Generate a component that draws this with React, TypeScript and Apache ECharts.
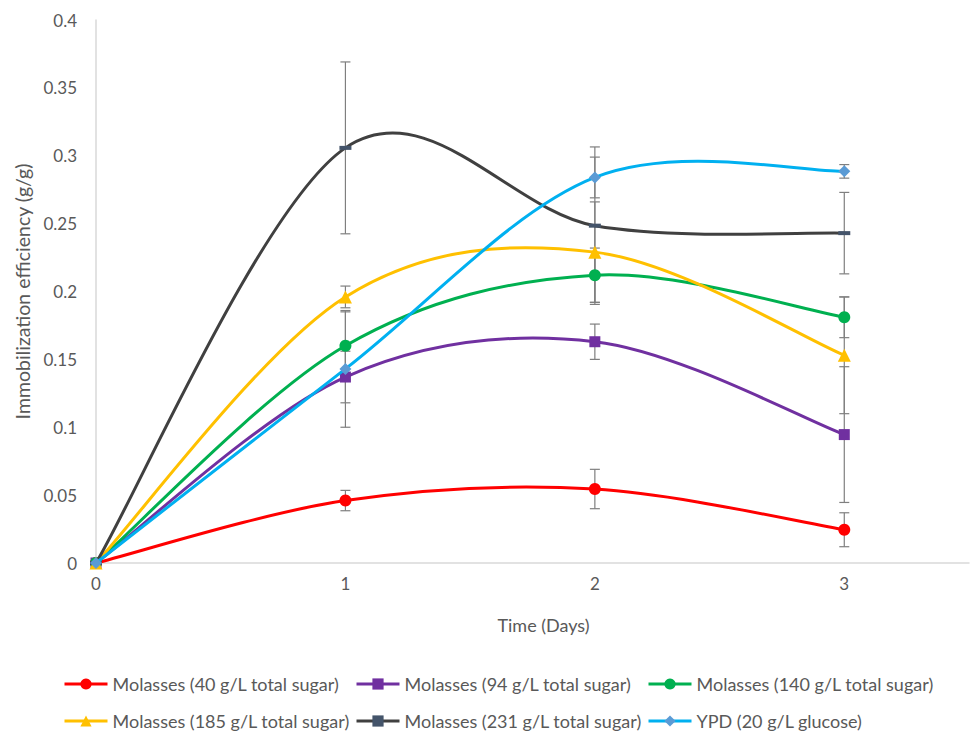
import React, { useEffect, useRef } from "react";
import * as echarts from "echarts";

const days = [0, 1, 2, 3];
const seriesNames = [
  "Molasses (40 g/L total sugar)",
  "Molasses (94 g/L total sugar)",
  "Molasses (140 g/L total sugar)",
  "Molasses (185 g/L total sugar)",
  "Molasses (231 g/L total sugar)",
  "YPD (20 g/L glucose)",
];
const m40 = [0, 0.046, 0.0545, 0.0245];
const m94 = [0, 0.137, 0.163, 0.0946];
const m140 = [0, 0.16, 0.212, 0.181];
const m185 = [0, 0.196, 0.229, 0.153];
const m231 = [0, 0.3058, 0.2485, 0.243];
const ypd = [0, 0.143, 0.284, 0.2885];

const e40 = [0, 0.0075, 0.0145, 0.0125];
const e94 = [0, 0.019, 0.013, 0.05];
const e140 = [0, 0.025, 0.02, 0.015];
const e185 = [0, 0.008, 0.037, 0.043];
const e231 = [0, 0.0633, 0.058, 0.03];
const eYpd = [0, 0.043, 0.015, 0.005];

const yTicks = [0, 0.05, 0.1, 0.15, 0.2, 0.25, 0.3, 0.35, 0.4];

const FONT = "Lato";
const TXT = "#595959";

export default function App() {
  const ref = useRef<HTMLDivElement>(null);
  useEffect(() => {
    if (!ref.current) return;
    const chart = echarts.init(ref.current, undefined, { renderer: "svg" });
    const values = [m40, m94, m140, m185, m231, ypd];
    const errs = [e40, e94, e140, e185, e231, eYpd];
    const lineColors = ["#ff0000", "#7030a0", "#00b050", "#ffc000", "#404040", "#00b0f0"];
    const markColors = ["#ff0000", "#7030a0", "#00b050", "#ffc000", "#44546a", "#5b9bd5"];
    const symbols = ["circle", "rect", "circle", "triangle", "rect", "diamond"];
    const symbolSizes: any[] = [12, 11, 12, 13, [12, 4], 12];

    // Smoothed curve (Excel-like cardinal spline) drawn through the axis scales
    const curveSeries = values.map((v, i) => ({
      name: seriesNames[i] + " curve",
      type: "custom",
      silent: true,
      z: 10 + 2 * i,
      data: days.map((d, j) => [d, v[j]]),
      encode: { x: 0, y: 1 },
      renderItem: (params: any, api: any) => {
        const j = params.dataIndex;
        const n = days.length;
        if (j >= n - 1) return null;
        const pts = days.map((d, k) => api.coord([d, v[k]]));
        const p0 = pts[Math.max(j - 1, 0)];
        const p1 = pts[j];
        const p2 = pts[j + 1];
        const p3 = pts[Math.min(j + 2, n - 1)];
        return {
          type: "bezierCurve",
          shape: {
            x1: p1[0],
            y1: p1[1],
            x2: p2[0],
            y2: p2[1],
            cpx1: p1[0] + (p2[0] - p0[0]) / 6,
            cpy1: p1[1] + (p2[1] - p0[1]) / 6,
            cpx2: p2[0] - (p3[0] - p1[0]) / 6,
            cpy2: p2[1] - (p3[1] - p1[1]) / 6,
          },
          style: { stroke: lineColors[i], lineWidth: 3, fill: null, lineCap: "round" },
        };
      },
    }));

    const markerSeries = values.map((v, i) => ({
      name: seriesNames[i],
      type: "line",
      data: days.map((d, j) => [d, v[j]]),
      symbol: symbols[i],
      symbolSize: symbolSizes[i],
      showAllSymbol: true,
      lineStyle: { color: lineColors[i], width: 3, opacity: 0 },
      itemStyle: { color: markColors[i] },
      z: 11 + 2 * i,
    }));

    const errSeries = values.map((v, i) => ({
      name: seriesNames[i] + " error",
      type: "custom",
      silent: true,
      z: 5,
      data: days
        .map((d, j) => [d, v[j] - errs[i][j], v[j] + errs[i][j]])
        .filter((_, j) => errs[i][j] > 0),
      encode: { x: 0, y: [1, 2] },
      renderItem: (params: any, api: any) => {
        const x = api.value(0);
        const lo = api.coord([x, api.value(1)]);
        const hi = api.coord([x, api.value(2)]);
        const hw = 5;
        const style = { stroke: "#7f7f7f", lineWidth: 1.2 };
        return {
          type: "group",
          children: [
            { type: "line", shape: { x1: lo[0], y1: lo[1], x2: hi[0], y2: hi[1] }, style },
            { type: "line", shape: { x1: lo[0] - hw, y1: lo[1], x2: lo[0] + hw, y2: lo[1] }, style },
            { type: "line", shape: { x1: hi[0] - hw, y1: hi[1], x2: hi[0] + hw, y2: hi[1] }, style },
          ],
        };
      },
    }));

    const legendPos = [
      [63, 675],
      [355, 675],
      [647, 675],
      [63, 712],
      [355, 712],
      [647, 712],
    ];
    const legends = seriesNames.map((n, i) => ({
      data: [n],
      left: legendPos[i][0],
      top: legendPos[i][1],
      padding: 0,
      itemWidth: 43,
      itemHeight: 14,
      lineStyle: { opacity: 1, width: 3 },
      textStyle: { fontFamily: FONT, fontSize: 18, color: TXT },
    }));

    chart.setOption({
      animation: false,
      backgroundColor: "#ffffff",
      legend: legends,
      grid: { left: 96, right: 0, top: 20, bottom: 168, containLabel: false },
      xAxis: {
        type: "value",
        min: 0,
        max: 3.5,
        interval: 1,
        name: "Time (Days)",
        nameLocation: "middle",
        nameGap: 53,
        nameTextStyle: { fontFamily: FONT, fontSize: 18, color: TXT, padding: [0, 0, 0, 22] },
        axisLine: { show: true, lineStyle: { color: "#d9d9d9", width: 1.5 } },
        axisTick: { show: false },
        splitLine: { show: false },
        axisLabel: {
          fontFamily: FONT,
          fontSize: 17,
          color: TXT,
          margin: 12,
          formatter: (v: number) => (v % 1 === 0 ? String(v) : ""),
        },
      },
      yAxis: {
        type: "value",
        min: 0,
        max: 0.4,
        interval: 0.05,
        name: "Immobilization efficiency (g/g)",
        nameLocation: "middle",
        nameGap: 60,
        nameTextStyle: { fontFamily: FONT, fontSize: 19.5, color: TXT },
        axisLine: { show: true, lineStyle: { color: "#d9d9d9", width: 1.5 } },
        axisTick: { show: false },
        splitLine: { show: false },
        axisLabel: {
          fontFamily: FONT,
          fontSize: 17,
          color: TXT,
          margin: 19,
          formatter: (v: number) => {
            const t = yTicks.find((k) => Math.abs(k - v) < 1e-9);
            return t === undefined ? "" : String(parseFloat(t.toFixed(2)));
          },
        },
      },
      series: [...errSeries, ...curveSeries, ...markerSeries],
    });
    return () => chart.dispose();
  }, []);
  return (
    <div
      ref={ref}
      style={{ position: "absolute", left: 0, top: 0, width: 972, height: 731 }}
    />
  );
}
